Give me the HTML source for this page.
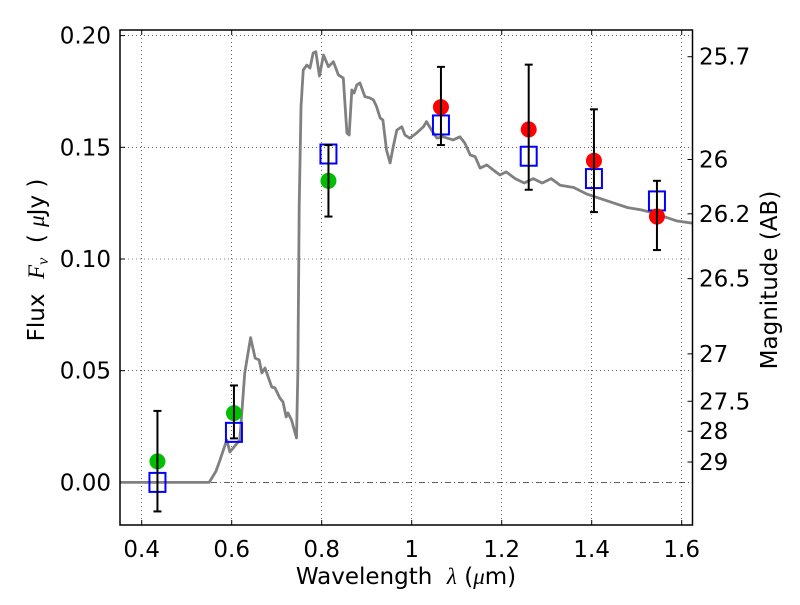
<!DOCTYPE html>
<html><head><meta charset="utf-8"><style>
html,body{margin:0;padding:0;background:#fff;}
svg text{font-family:"DejaVu Sans","Liberation Sans",sans-serif;white-space:pre;}
</style></head><body>
<svg id="chart" width="800" height="600" xmlns="http://www.w3.org/2000/svg"></svg>
<script>
const specLam=[0.35,0.55,0.565,0.574,0.589,0.596,0.618,0.629,0.642,0.652,0.661,0.667,0.674,0.689,0.696,0.707,0.714,0.721,0.725,0.733,0.744,0.747,0.750,0.754,0.759,0.767,0.774,0.781,0.787,0.795,0.804,0.815,0.826,0.837,0.848,0.856,0.861,0.867,0.872,0.878,0.885,0.896,0.907,0.915,0.922,0.930,0.936,0.944,0.952,0.959,0.967,0.978,0.985,0.996,1.011,1.026,1.033,1.044,1.056,1.070,1.092,1.107,1.118,1.130,1.141,1.152,1.167,1.181,1.196,1.21,1.23,1.25,1.27,1.29,1.31,1.33,1.36,1.39,1.42,1.45,1.48,1.51,1.53,1.56,1.59,1.625];
const specFlux=[0,0,0.005,0.010,0.019,0.0136,0.019,0.049,0.0648,0.0557,0.0548,0.049,0.0512,0.0427,0.0423,0.0378,0.036,0.0293,0.0311,0.0279,0.0199,0.049,0.1233,0.168,0.1846,0.1868,0.1855,0.1922,0.1928,0.1819,0.1913,0.1861,0.1883,0.1824,0.181,0.1564,0.1555,0.1757,0.1743,0.1779,0.1788,0.1727,0.1721,0.1712,0.1682,0.1631,0.1622,0.1488,0.143,0.1503,0.1577,0.1592,0.1555,0.1541,0.1564,0.1592,0.1615,0.1577,0.1541,0.1547,0.1533,0.1547,0.1519,0.1466,0.1458,0.1407,0.1421,0.1399,0.1376,0.139,0.136,0.134,0.136,0.134,0.136,0.133,0.132,0.129,0.127,0.125,0.123,0.122,0.121,0.119,0.117,0.116];
const modelLam=[0.435,0.605,0.815,1.065,1.26,1.405,1.545];
const modelFlux=[0.0,0.0224,0.147,0.160,0.146,0.136,0.126];
const greenLam=[0.435,0.605,0.815];
const greenFlux=[0.0094,0.031,0.135];
const redLam=[1.065,1.26,1.405,1.545];
const redFlux=[0.168,0.158,0.144,0.119];
const errLam=[0.435,0.605,0.815,1.065,1.26,1.405,1.545];
const errLo=[-0.013,0.0197,0.119,0.151,0.131,0.121,0.104];
const errHi=[0.032,0.0434,0.151,0.186,0.187,0.167,0.135];
const xTicks=[0.4,0.6,0.8,1.0,1.2,1.4,1.6];
const xTickLabels=["0.4","0.6","0.8","1","1.2","1.4","1.6"];
const yTicks=[0,0.05,0.1,0.15,0.2];
const yTickLabels=["0.00","0.05","0.10","0.15","0.20"];
const magTicks=[25.7,26,26.2,26.5,27,27.5,28,29];
const magLabels=["25.7","26","26.2","26.5","27","27.5","28","29"];

const L=120,R=692.5,T=30,B=525;
const FS=23;
const X=v=>141.7+(v-0.4)*450;
const Y=v=>482.4-v*2234;
const svg=document.getElementById('chart');
const NS="http://www.w3.org/2000/svg";
function mk(tag,attrs,parent){const e=document.createElementNS(NS,tag);for(const k in attrs)e.setAttribute(k,attrs[k]);(parent||svg).appendChild(e);return e;}

xTicks.forEach((t,i)=>{
  const g=mk('line',{x1:X(t),x2:X(t),y1:T,y2:B,stroke:'#000','stroke-width':0.6,'stroke-dasharray':'1,3'});
  
  
  const tk=mk('line',{x1:X(t),x2:X(t),y1:B,y2:B-5,stroke:'#000'});
  
  
  mk('line',{x1:X(t),x2:X(t),y1:T,y2:T+5,stroke:'#000'});
  const tx=mk('text',{x:X(t),y:557,'font-size':FS,'text-anchor':'middle'});
  tx.textContent=xTickLabels[i];
  
  
});
yTicks.forEach((t,i)=>{
  if(t!==0){
    const g=mk('line',{x1:L,x2:R,y1:Y(t),y2:Y(t),stroke:'#000','stroke-width':0.6,'stroke-dasharray':'1,3'});
    
    
  }
  const tk=mk('line',{x1:L,x2:L+5,y1:Y(t),y2:Y(t),stroke:'#000'});
  
  
  const tx=mk('text',{x:111,y:Y(t)+8,'font-size':FS,'text-anchor':'end'});
  tx.textContent=yTickLabels[i];
  
  
});
const zl=mk('line',{x1:L,x2:R,y1:Y(0),y2:Y(0),stroke:'#000','stroke-width':0.6,'stroke-dasharray':'6,3,1,3'});



magTicks.forEach((m,i)=>{
  const f=Math.pow(10,(23.9-m)/2.5);
  const tk=mk('line',{x1:R-5,x2:R,y1:Y(f),y2:Y(f),stroke:'#000'});
  
  
  const tx=mk('text',{x:699,y:Y(f)+8,'font-size':FS});
  tx.textContent=magLabels[i];
  
  
});

const clip=mk('clipPath',{id:'pc'});mk('rect',{x:L,y:T,width:R-L,height:B-T},clip);
const sp=mk('polyline',{points:specLam.map((l,i)=>X(l)+','+Y(specFlux[i])).join(' '),fill:'none',stroke:'#808080','stroke-width':2.8,'stroke-linejoin':'round','clip-path':'url(#pc)'});



modelLam.forEach((l,i)=>{
  const r=mk('rect',{x:X(l)-8,y:Y(modelFlux[i])-9.5,width:16,height:19,fill:'none',stroke:'#0000ff','stroke-width':2});
  
  
});
greenLam.forEach((l,i)=>{
  const c=mk('circle',{cx:X(l),cy:Y(greenFlux[i]),r:8,fill:'#00bf00'});
  
  
});
redLam.forEach((l,i)=>{
  const c=mk('circle',{cx:X(l),cy:Y(redFlux[i]),r:8,fill:'#ff0000'});
  
  
});
errLam.forEach((l,i)=>{
  const g=mk('g',{stroke:'#000','stroke-width':2});
  
  
  mk('line',{x1:X(l),x2:X(l),y1:Y(errLo[i]),y2:Y(errHi[i])},g);
  mk('line',{x1:X(l)-4,x2:X(l)+4,y1:Y(errLo[i]),y2:Y(errLo[i])},g);
  mk('line',{x1:X(l)-4,x2:X(l)+4,y1:Y(errHi[i]),y2:Y(errHi[i])},g);
});

const fr=mk('rect',{x:L,y:T,width:R-L,height:B-T,fill:'none',stroke:'#000','stroke-width':1.5});



const xl=mk('text',{x:406,y:584,'font-size':FS,'text-anchor':'middle'});
xl.innerHTML='Wavelength  <tspan font-family="Liberation Serif" font-style="italic">λ</tspan> (<tspan font-family="Liberation Serif" font-style="italic">μ</tspan>m)';


const yl=mk('text',{x:0,y:0,'font-size':FS,'text-anchor':'middle',transform:'translate(44,260) rotate(-90)'});
yl.innerHTML='Flux  <tspan font-family="Liberation Serif" font-style="italic">F</tspan><tspan font-family="Liberation Serif" font-style="italic" font-size="16" dy="4">ν</tspan><tspan dy="-4">  ( </tspan><tspan font-family="Liberation Serif" font-style="italic">μ</tspan>Jy )';


const rl=mk('text',{x:0,y:0,'font-size':FS,'text-anchor':'middle',transform:'translate(777,280) rotate(-90)'});
rl.textContent='Magnitude (AB)';


</script>
</body></html>
